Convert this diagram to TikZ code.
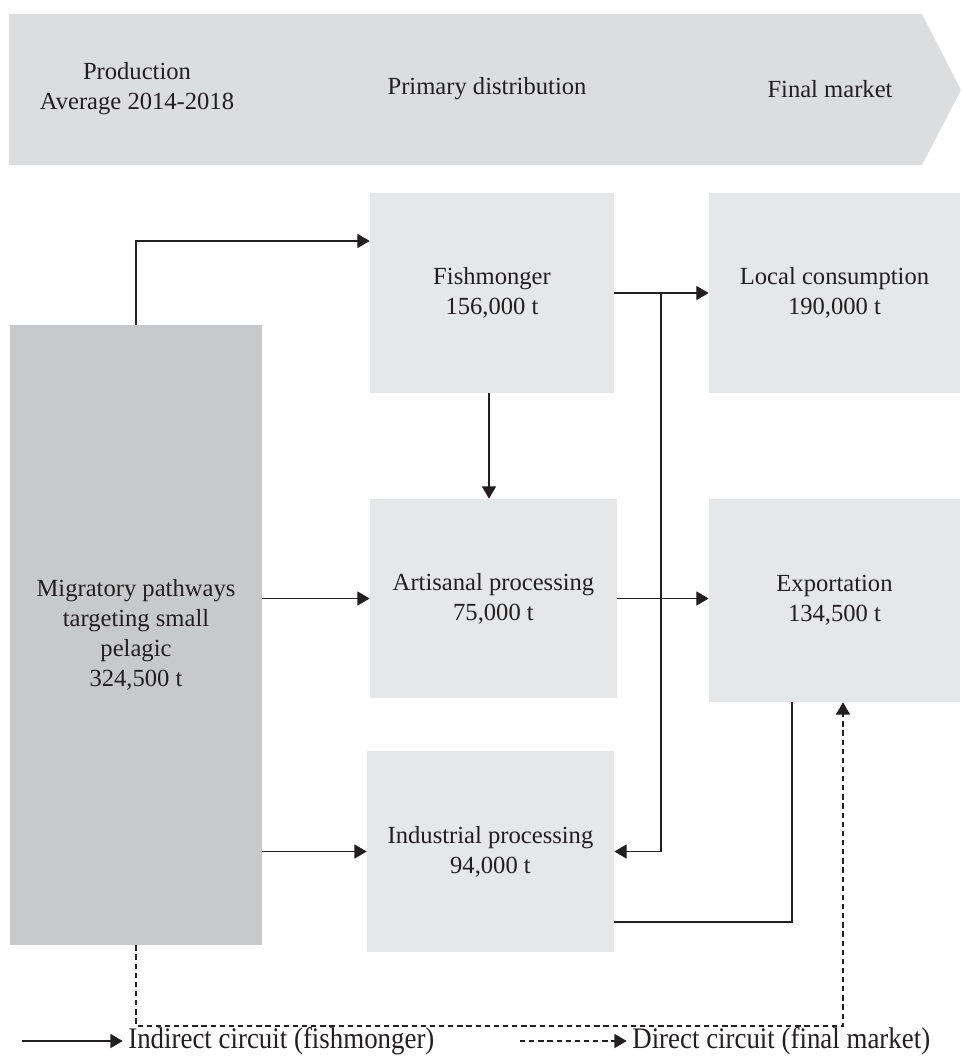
\documentclass[tikz,border=0pt]{standalone}
\usepackage{fontspec}
\setmainfont{Liberation Serif}
\newfontfamily\legendfont[FakeStretch=0.9]{Liberation Serif}
\usetikzlibrary{arrows.meta}
\definecolor{bannergray}{HTML}{DCDDDF}
\definecolor{boxgray}{HTML}{E6E7E8}
\definecolor{sourcegray}{HTML}{C8C9CA}
\definecolor{ink}{HTML}{231F20}

\begin{document}
\begin{tikzpicture}[x=0.02cm,y=-0.02cm,
    txt/.style={align=center, text=ink, font=\fontsize{14}{17}\selectfont},
    box/.style={txt, fill=boxgray, inner sep=0pt},
    legend/.style={anchor=west, text=ink, inner sep=0pt, font=\legendfont\fontsize{17}{20}\selectfont},
    link/.style={draw=ink, line width=0.7pt},
    flow/.style={link, -{Triangle[length=7pt,width=8pt]}}]

  \useasboundingbox (0,0) rectangle (961,1058);

  % banner
  \fill[bannergray] (9,14) -- (922,14) -- (961,90) -- (922,165) -- (9,165) -- cycle;
  \node[txt] (t) at (137,89) {Production\\Average 2014-2018};
  \node[txt] (t0) at (487,89) {Primary distribution};
  \node[txt] (t1) at (830,89) {Final market};

  % boxes
  \node[box, fill=sourcegray, minimum width=5.04cm, minimum height=12.4cm] (mig) at (136,635)
       {Migratory pathways\\targeting small\\pelagic\\324,500 t};
  \node[box, minimum width=4.88cm, minimum height=4cm] (fish) at (492,293) {Fishmonger\\156,000 t};
  \node[box, minimum width=5.02cm, minimum height=4cm] (loc) at (834.5,293) {Local consumption\\190,000 t};
  \node[box, minimum width=4.94cm, minimum height=3.98cm] (art) at (493.5,598.5) {Artisanal processing\\75,000 t};
  \node[box, minimum width=5.02cm, minimum height=4.06cm] (exp) at (834.5,600.5) {Exportation\\134,500 t};
  \node[box, minimum width=4.94cm, minimum height=4.02cm] (ind) at (490.5,851.5) {Industrial processing\\94,000 t};

  % connectors
  \coordinate (jn) at (661,293);
  \draw[flow] (mig.north) |- (fish.west |- 0,241);
  \draw[flow] (fish.east) -- (loc.west);
  \draw[flow] (jn) |- (ind.east);
  \draw[flow] (fish.south -| 489,0) -- (art.north -| 489,0);
  \draw[flow] (mig.east |- art.west) -- (art.west);
  \draw[flow] (art.east) -- (art.east -| exp.west);
  \draw[flow] (mig.east |- ind.west) -- (ind.west);
  \draw[link] (ind.east |- 0,922) -| (exp.south -| 792,0);
  \draw[flow, dash pattern=on 3pt off 2.2pt] (mig.south) |- (843,1026) -- (exp.south -| 843,0);

  % legend
  \node[legend] (l) at (128,1041) {Indirect circuit (fishmonger)};
  \node[legend] (l0) at (632,1041) {Direct circuit (final market)};
  \coordinate (s) at (22,1041);
  \coordinate (s0) at (520,1041);
  \draw[flow] (s) -- ([xshift=-3pt]l.west);
  \draw[flow, dash pattern=on 3pt off 2.2pt] (s0) -- ([xshift=-3pt]l0.west);

\end{tikzpicture}
\end{document}
